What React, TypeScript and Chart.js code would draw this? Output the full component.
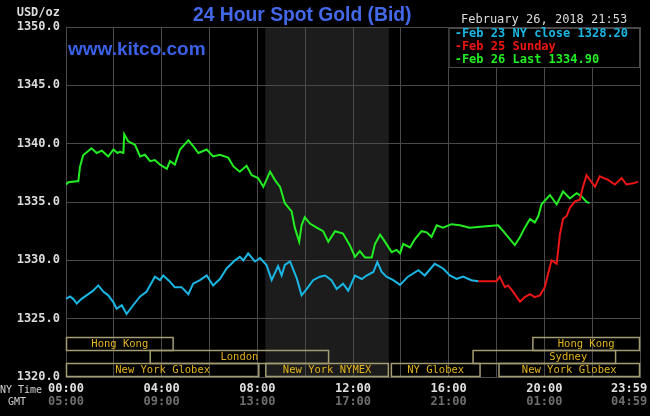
import React, { useEffect, useRef } from 'react';
import { Chart, registerables } from 'chart.js';

Chart.register(...registerables);

// ---------- text ----------
const TITLE = '24 Hour Spot Gold (Bid)';
const SITE = 'www.kitco.com';
const STAMP = 'February 26, 2018 21:53';
const UNIT = 'USD/oz';
const NY_ROW_LABEL = 'NY Time';
const GMT_ROW_LABEL = 'GMT';

// ---------- series ----------
const seriesLabels = ['Feb 23 NY close 1328.20', 'Feb 25 Sunday', 'Feb 26 Last 1334.90'];
const seriesColors = ['#1ab6e4', '#ee1515', '#22ee22'];

const feb23Times = ['00:00', '00:10', '00:18', '00:27', '00:39', '00:56', '01:08', '01:21', '01:34', '01:46', '01:59', '02:07', '02:20', '02:32', '02:45', '03:06', '03:22', '03:43', '03:56', '04:04', '04:17', '04:33', '04:50', '05:07', '05:19', '05:36', '05:53', '06:09', '06:26', '06:43', '07:04', '07:16', '07:25', '07:37', '07:54', '08:07', '08:23', '08:36', '08:52', '09:01', '09:09', '09:22', '09:39', '09:51', '10:04', '10:20', '10:37', '10:50', '11:06', '11:19', '11:35', '11:48', '12:05', '12:22', '12:34', '12:51', '13:01', '13:12', '13:24', '13:41', '13:58', '14:18', '14:44', '15:00', '15:25', '15:46', '16:03', '16:20', '16:36', '16:57', '17:14'];
const feb23Values = [1326.7, 1326.9, 1326.7, 1326.3, 1326.7, 1327.1, 1327.4, 1327.85, 1327.3, 1327.0, 1326.4, 1325.85, 1326.15, 1325.4, 1326.0, 1326.9, 1327.3, 1328.6, 1328.3, 1328.7, 1328.3, 1327.7, 1327.7, 1327.1, 1328.0, 1328.3, 1328.7, 1327.85, 1328.4, 1329.3, 1330.0, 1330.3, 1330.0, 1330.6, 1329.9, 1330.2, 1329.6, 1328.3, 1329.5, 1328.7, 1329.6, 1329.9, 1328.45, 1327.0, 1327.55, 1328.3, 1328.6, 1328.7, 1328.3, 1327.55, 1328.0, 1327.4, 1328.7, 1328.4, 1328.7, 1329.0, 1329.85, 1329.0, 1328.6, 1328.3, 1327.9, 1328.6, 1329.15, 1328.7, 1329.7, 1329.3, 1328.7, 1328.4, 1328.6, 1328.3, 1328.2];

const feb25Times = ['17:14', '18:00', '18:08', '18:21', '18:29', '18:42', '18:59', '19:11', '19:24', '19:36', '19:49', '20:01', '20:18', '20:31', '20:39', '20:47', '20:56', '21:04', '21:17', '21:29', '21:37', '21:46', '22:07', '22:19', '22:40', '22:57', '23:14', '23:26', '23:43', '23:55'];
const feb25Values = [1328.2, 1328.2, 1328.6, 1327.7, 1327.85, 1327.3, 1326.45, 1326.85, 1327.1, 1326.85, 1327.0, 1327.7, 1330.0, 1329.7, 1332.2, 1333.55, 1333.8, 1334.5, 1335.05, 1335.2, 1336.3, 1337.3, 1336.3, 1337.2, 1336.9, 1336.5, 1337.05, 1336.5, 1336.6, 1336.75];

const feb26Times = ['00:00', '00:06', '00:31', '00:35', '00:43', '01:04', '01:17', '01:30', '01:46', '01:59', '02:09', '02:15', '02:24', '02:26', '02:36', '02:53', '03:06', '03:18', '03:31', '03:43', '03:56', '04:13', '04:21', '04:33', '04:46', '05:07', '05:19', '05:32', '05:53', '06:09', '06:26', '06:47', '07:00', '07:16', '07:33', '07:46', '08:02', '08:15', '08:32', '08:44', '08:57', '09:09', '09:26', '09:34', '09:45', '09:51', '09:59', '10:12', '10:29', '10:45', '10:58', '11:15', '11:35', '11:52', '12:05', '12:17', '12:30', '12:47', '12:55', '13:08', '13:20', '13:37', '13:49', '13:58', '14:06', '14:23', '14:35', '14:52', '15:05', '15:17', '15:30', '15:46', '16:07', '16:28', '16:53', '17:27', '18:04', '18:17', '18:34', '18:46', '18:59', '19:11', '19:24', '19:36', '19:45', '19:53', '20:14', '20:31', '20:47', '21:04', '21:21', '21:33', '21:46', '21:53'];
const feb26Values = [1336.5, 1336.7, 1336.8, 1338.0, 1339.0, 1339.6, 1339.2, 1339.4, 1338.9, 1339.5, 1339.2, 1339.3, 1339.2, 1340.8, 1340.2, 1339.9, 1338.9, 1339.05, 1338.5, 1338.6, 1338.2, 1337.85, 1338.5, 1338.2, 1339.5, 1340.3, 1339.8, 1339.2, 1339.5, 1338.9, 1339.05, 1338.8, 1338.05, 1337.6, 1338.1, 1337.3, 1337.05, 1336.3, 1337.6, 1336.9, 1336.3, 1334.9, 1334.2, 1332.8, 1331.6, 1333.0, 1333.7, 1333.15, 1332.8, 1332.5, 1331.6, 1332.5, 1332.3, 1331.3, 1330.3, 1330.8, 1330.25, 1330.25, 1331.4, 1332.2, 1331.6, 1330.7, 1330.9, 1330.6, 1331.4, 1331.1, 1331.8, 1332.5, 1332.4, 1332.0, 1333.0, 1332.8, 1333.1, 1333.0, 1332.8, 1332.9, 1333.0, 1332.5, 1331.8, 1331.3, 1332.0, 1332.8, 1333.55, 1333.25, 1333.8, 1334.8, 1335.6, 1334.8, 1335.9, 1335.3, 1335.75, 1335.5, 1335.0, 1334.9];

// ---------- axes ----------
const yMin = 1320;
const yMax = 1350;
const yStep = 5;
const xStartTime = '00:00';
const xEndTime = '24:00';
const xGridStepHours = 2;
const nyTimeLabels = ['00:00', '04:00', '08:00', '12:00', '16:00', '20:00', '23:59'];
const gmtTimeLabels = ['05:00', '09:00', '13:00', '17:00', '21:00', '01:00', '04:59'];

// NYMEX floor session shading
const shadeStart = '08:20';
const shadeEnd = '13:30';

// ---------- trading sessions ----------
const sessionNames = ['Hong Kong', 'London', 'New York Globex', 'New York NYMEX', 'NY Globex', 'Sydney', 'New York Globex', 'Hong Kong'];
const sessionStarts = ['00:00', '03:30', '00:00', '08:20', '13:35', '17:00', '18:05', '19:30'];
const sessionEnds = ['04:30', '11:00', '08:05', '13:30', '17:20', '23:00', '24:00', '24:00'];
const sessionRows = [0, 1, 2, 2, 2, 1, 2, 0];
const sessionLabelAt = ['', '', '', '', '', '21:00', '', ''];

const toHours = (t: string) => {
  const [h, m] = t.split(':').map(Number);
  return h + m / 60;
};

const MONO = '"DejaVu Sans Mono", "Liberation Mono", monospace';
const SANS = '"Liberation Sans", Arial, sans-serif';
const GRID = '#4a4a4a';

const kitcoPlugin = {
  id: 'kitcoDecor',
  beforeDraw(chart: any) {
    const { ctx, chartArea: a, scales } = chart;
    const x = scales.x;
    ctx.save();
    ctx.fillStyle = '#000';
    ctx.fillRect(0, 0, chart.width, chart.height);
    const s0 = x.getPixelForValue(toHours(shadeStart));
    const s1 = x.getPixelForValue(toHours(shadeEnd));
    ctx.fillStyle = '#1b1c1b';
    ctx.fillRect(s0, a.top, s1 - s0, a.bottom - a.top);
    ctx.restore();
  },
  afterDatasetsDraw(chart: any) {
    const { ctx, chartArea: a, scales } = chart;
    const x = scales.x;
    ctx.save();

    // session bars
    const rowH = 13;
    ctx.lineWidth = 1.5;
    ctx.font = `10.5px ${MONO}`;
    ctx.textBaseline = 'middle';
    ctx.textAlign = 'center';
    sessionNames.forEach((name, i) => {
      const x0 = x.getPixelForValue(toHours(sessionStarts[i]));
      const x1 = x.getPixelForValue(toHours(sessionEnds[i]));
      const yb = a.bottom - 1 - (2 - sessionRows[i]) * rowH;
      const yt = yb - rowH;
      ctx.strokeStyle = '#a49c72';
      ctx.strokeRect(x0 + 0.5, yt + 0.5, x1 - x0 - 1, rowH);
      ctx.fillStyle = '#e2b31e';
      const cx = sessionLabelAt[i] ? x.getPixelForValue(toHours(sessionLabelAt[i])) : (x0 + x1) / 2;
      ctx.fillText(name, cx, yt + rowH / 2 + 1);
    });

    // legend box
    const lx0 = x.getPixelForValue(16);
    const lx1 = a.right;
    const ly0 = a.top + 1;
    const ly1 = a.top + 40;
    ctx.fillStyle = '#000';
    ctx.fillRect(lx0, ly0, lx1 - lx0, ly1 - ly0);
    ctx.strokeStyle = GRID;
    ctx.lineWidth = 1;
    ctx.strokeRect(lx0 + 0.5, ly0 + 0.5, lx1 - lx0 - 1, ly1 - ly0);
    ctx.font = `bold 12px ${MONO}`;
    ctx.textAlign = 'left';
    chart.data.datasets.forEach((ds: any, i: number) => {
      ctx.fillStyle = ds.borderColor;
      ctx.fillText('-' + ds.label, lx0 + 6, ly0 + 6 + i * 13);
    });

    ctx.restore();
  },
  afterDraw(chart: any) {
    const { ctx, scales } = chart;
    const x = scales.x;
    ctx.save();
    ctx.textBaseline = 'middle';

    // title & site
    ctx.font = `bold 19.3px ${SANS}`;
    ctx.fillStyle = '#4468ea';
    ctx.textAlign = 'left';
    ctx.fillText(TITLE, 193, 16);
    ctx.font = `bold 19px ${SANS}`;
    ctx.fillStyle = '#3a60e6';
    ctx.fillText(SITE, 68, 50);

    // stamp & unit
    ctx.font = `12px ${MONO}`;
    ctx.fillStyle = '#dcdcdc';
    ctx.fillText(STAMP, 461, 20);
    ctx.font = `bold 12px ${MONO}`;
    ctx.textAlign = 'right';
    ctx.fillText(UNIT, 60, 13);

    // x labels
    const last = nyTimeLabels.length - 1;
    nyTimeLabels.forEach((lab, i) => {
      const px = x.getPixelForValue(toHours(lab));
      ctx.textAlign = i === last ? 'right' : 'center';
      const tx = i === last ? px + 7.5 : px;
      ctx.font = `bold 12px ${MONO}`;
      ctx.fillStyle = '#e0e0e0';
      ctx.fillText(lab, tx, 389);
      ctx.fillStyle = '#6e6e6e';
      ctx.fillText(gmtTimeLabels[i], tx, 402);
    });
    ctx.font = `10px ${MONO}`;
    ctx.textAlign = 'left';
    ctx.fillStyle = '#d0d0d0';
    ctx.fillText(NY_ROW_LABEL, 0, 390);
    ctx.fillText(GMT_ROW_LABEL, 8, 402);
    ctx.restore();
  },
};

export default function App() {
  const ref = useRef<HTMLCanvasElement | null>(null);

  useEffect(() => {
    document.body.style.margin = '0';
    document.body.style.background = '#000';
    const canvas = ref.current;
    if (!canvas) return;
    const times = [feb23Times, feb25Times, feb26Times];
    const values = [feb23Values, feb25Values, feb26Values];
    const chart = new Chart(canvas, {
      type: 'line',
      data: {
        datasets: seriesLabels.map((label, i) => ({
          label,
          data: times[i].map((t, j) => ({ x: toHours(t), y: values[i][j] })),
          borderColor: seriesColors[i],
          backgroundColor: seriesColors[i],
          borderWidth: 2,
          pointRadius: 0,
          tension: 0,
          fill: false,
        })),
      },
      options: {
        animation: false,
        responsive: false,
        devicePixelRatio: 1,
        layout: { padding: { top: 27, right: 10, left: 0, bottom: 0 } },
        plugins: { legend: { display: false }, title: { display: false }, tooltip: { enabled: false } },
        events: [],
        scales: {
          x: {
            type: 'linear',
            min: toHours(xStartTime),
            max: toHours(xEndTime),
            ticks: { display: false, stepSize: xGridStepHours },
            grid: { color: GRID, drawTicks: false, lineWidth: 1 },
            border: { color: GRID },
            afterFit: (s: any) => { s.height = 39; },
          },
          y: {
            min: yMin,
            max: yMax,
            ticks: {
              stepSize: yStep,
              color: '#dcdcdc',
              font: { family: MONO, size: 12, weight: 'bold' },
              padding: 6,
              callback: (v: any) => Number(v).toFixed(1),
            },
            grid: { color: GRID, drawTicks: false, lineWidth: 1 },
            border: { color: GRID },
            afterFit: (s: any) => { s.width = 66; },
          },
        },
      } as any,
      plugins: [kitcoPlugin],
    });
    return () => chart.destroy();
  }, []);

  return (
    <div style={{ position: 'absolute', left: 0, top: 0, width: 650, height: 416, background: '#000' }}>
      <canvas ref={ref} width={650} height={416} />
    </div>
  );
}
